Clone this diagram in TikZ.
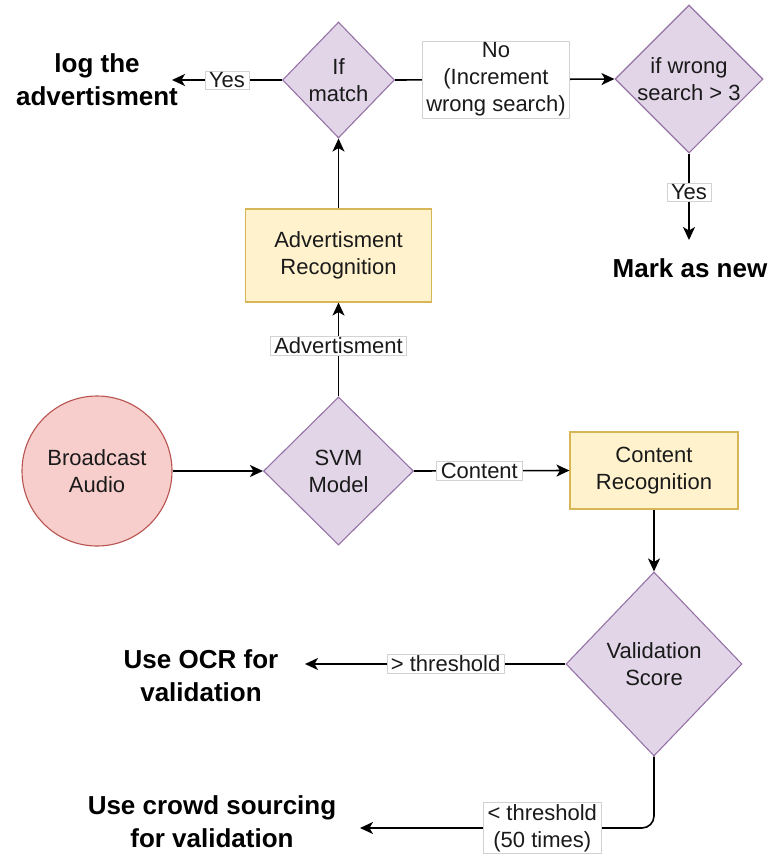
\documentclass[tikz,border=0pt]{standalone}
\usepackage{fontspec}
\setmainfont{Liberation Sans}
\usetikzlibrary{shapes.geometric,arrows.meta}

\definecolor{dfill}{HTML}{E1D5E7}
\definecolor{dstroke}{HTML}{9673A6}
\definecolor{bfill}{HTML}{FFF2CC}
\definecolor{bstroke}{HTML}{D6B656}
\definecolor{cfill}{HTML}{F8CECC}
\definecolor{cstroke}{HTML}{B85450}
\definecolor{txt}{HTML}{1A1A1A}

\begin{document}
\begin{tikzpicture}[x=1pt,y=-1pt,
  every node/.style={font=\fontsize{22}{27}\selectfont, text=txt},
  decision/.style={diamond, draw=dstroke, fill=dfill, line width=1.1pt, inner sep=0pt},
  process/.style={rectangle, draw=bstroke, fill=bfill, line width=1.1pt, align=center, inner sep=0pt},
  start/.style={circle, draw=cstroke, fill=cfill, line width=1.1pt, align=center, inner sep=0pt, minimum size=150pt},
  inner/.style={align=center, font=\fontsize{22}{27}\selectfont, text=txt},
  outcome/.style={align=center, font=\fontsize{26}{33}\selectfont\bfseries, text=black},
  lbl/.style={sharp corners, fill=white, draw=gray!35, line width=0.6pt, inner xsep=4pt, inner ysep=1.5pt, align=center},
  flow/.style={draw=black, line width=1.6pt, -{Stealth[length=13pt,width=12pt,inset=3.5pt]}}
]
\useasboundingbox (0,0) rectangle (772,857);

% decisions
\node[decision, minimum width=112pt, minimum height=116pt,
      label={[inner]center:If\\match}] (match) at (338.5,80) {};
\node[decision, minimum width=148pt, minimum height=148pt,
      label={[inner]center:if wrong\\search > 3}] (wrong) at (689,79) {};
\node[decision, minimum width=150pt, minimum height=148pt,
      label={[inner]center:SVM\\Model}] (svm) at (338.5,471) {};
\node[decision, minimum width=176pt, minimum height=184pt,
      label={[inner]center:Validation\\Score}] (valid) at (654,664) {};

% processes
\node[process, minimum width=186pt, minimum height=93pt] (advrec) at (338.5,255.5)
  {Advertisment\\Recognition};
\node[process, minimum width=168pt, minimum height=77pt] (conrec) at (654,470.5)
  {Content\\Recognition};

% source
\node[start] (bc) at (97,471) {Broadcast\\Audio};

% outcomes
\node[outcome] (logtxt) at (97,80) {log the\\advertisment};
\node[outcome] (marknew) at (690,268) {Mark as new};
\node[outcome] (ocr) at (201,676) {Use OCR for\\validation};
\node[outcome] (crowd) at (212,822) {Use crowd sourcing\\for validation};

% arrow ends next to the outcome texts
\coordinate (logtip) at (172,80);
\coordinate (marktip) at (689,240);
\coordinate (ocrtip) at (305,664);
\coordinate (crowdtip) at (360,828);

% connectors
\draw[flow] (bc.east) -- (svm.west);
\draw[flow] (svm.north) -- node[lbl, pos=0.54] {Advertisment} (advrec.south);
\draw[flow] (advrec.north) -- (match.south);
\draw[flow] (match.west) -- node[lbl, pos=0.5] {Yes} (logtip);
\draw[flow] (match.east) -- node[lbl, pos=0.46] {No\\(Increment\\wrong search)} (wrong.west);
\draw[flow] (wrong.south) -- node[lbl, pos=0.45] {Yes} (marktip);
\draw[flow] (svm.east) -- node[lbl, pos=0.42] {Content} (conrec.west);
\draw[flow] (conrec.south) -- (valid.north);
\draw[flow] (valid.west) -- node[lbl, pos=0.46] {> threshold} (ocrtip);
\draw[flow, rounded corners=12pt] (valid.south) |- node[lbl, pos=0.69] {< threshold\\(50 times)} (crowdtip);
\end{tikzpicture}
\end{document}
